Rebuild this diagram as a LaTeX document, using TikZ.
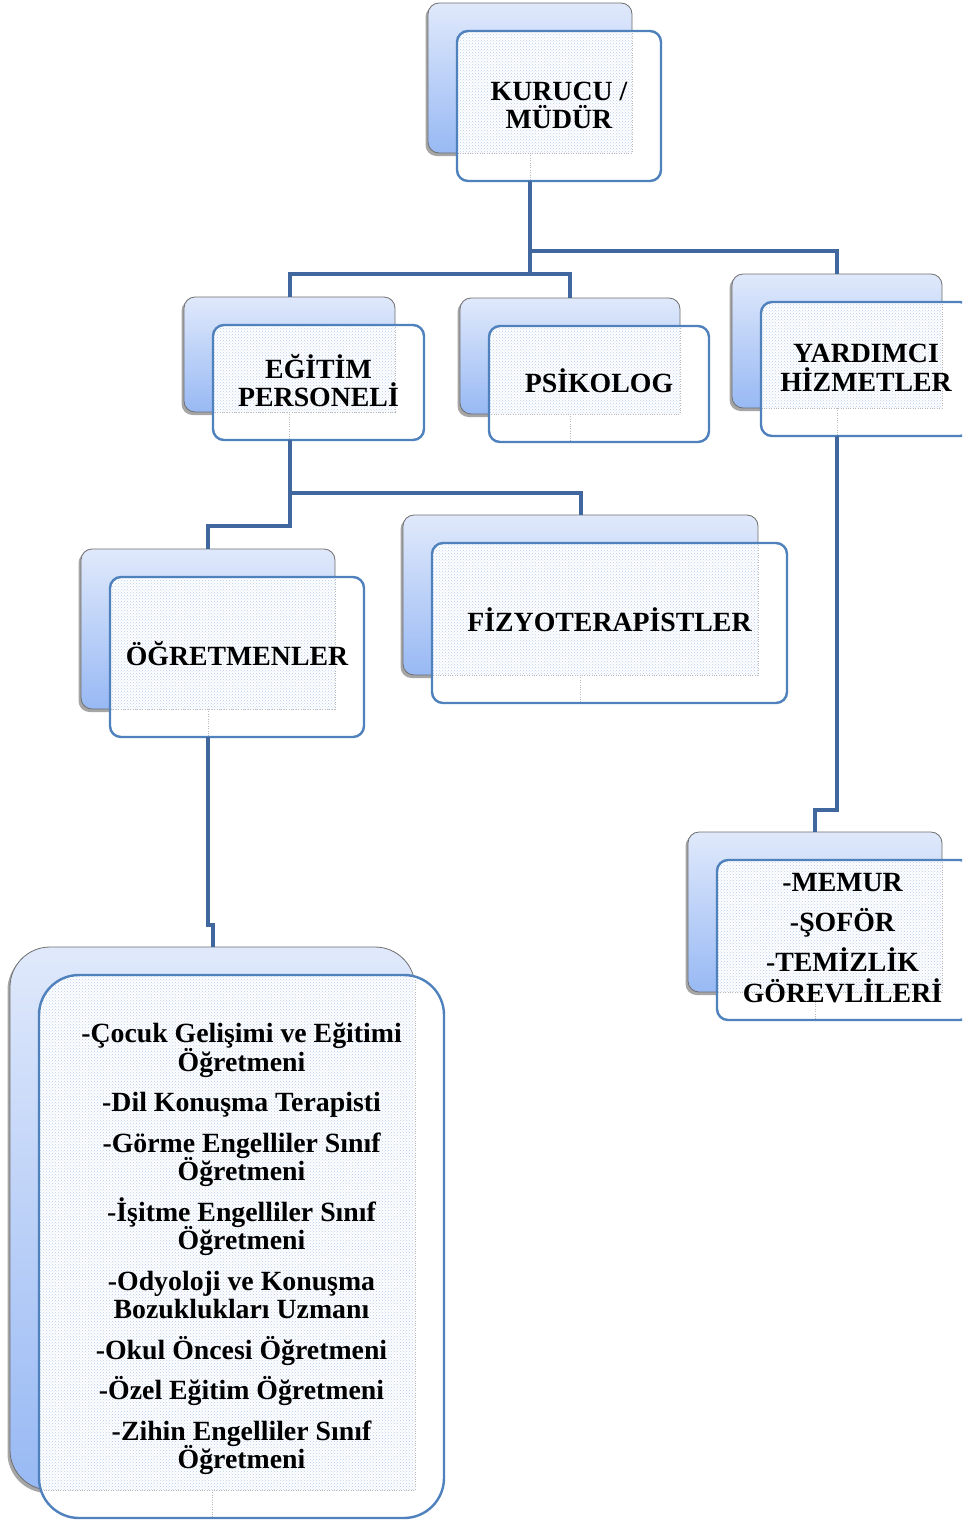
\documentclass[tikz,border=0pt]{standalone}
\usepackage{fontspec}
\setmainfont{Liberation Serif}
\usetikzlibrary{shadows,patterns}
\definecolor{conncol}{RGB}{65,104,158}
\definecolor{frontcol}{RGB}{79,129,189}
\definecolor{backtop}{RGB}{224,233,251}
\definecolor{backbot}{RGB}{152,185,244}
\definecolor{backline}{RGB}{110,110,110}
\definecolor{dotblue}{RGB}{185,205,238}
\newcommand\tightlines{\lineskiplimit=-100pt\relax\lineskip=0pt\relax}
\tikzset{
  backbox/.style={draw=backline, line width=0.8pt, top color=backtop, bottom color=backbot,
    drop shadow={shadow xshift=-2.5pt, shadow yshift=-3pt, opacity=.35, fill=black}},
  frontbox/.style={fill=white, inner sep=0pt, outer sep=0pt, anchor=north west},
  frontline/.style={draw=frontcol, line width=2.4pt},
  dotline/.style={draw=gray!55, line width=.6pt, dash pattern=on .8pt off 1.6pt},
  conn/.style={draw=conncol, line width=4pt, line join=miter},
  boxtext/.style={font=\bfseries\fontsize{27.8}{28.5}\selectfont\tightlines, align=center, text=black, inner sep=0pt}
}
% #1 name, #2 x, #3 y, #4 w, #5 h, #6 radius, #7 text, #8 text shift
\newcommand\orgbox[8]{%
  \draw[backbox, rounded corners=#6] (#2,#3) rectangle ++(#4,#5);
  \node[frontbox, rounded corners=#6, minimum width=#4pt, minimum height=#5pt] (#1) at (#2+29,#3+28) {};
  \begin{scope}
    \clip[rounded corners=#6] (#2+29,#3+28) rectangle ++(#4,#5);
    \fill[pattern=crosshatch dots, pattern color=dotblue] (#2+29,#3+28) rectangle (#2+#4,#3+#5);
    \draw[dotline] (#2+#4,#3+28) -- (#2+#4,#3+#5) -- (#2+29,#3+#5);
    \draw[dotline] (#2+#4/2,#3+#5) -- (#2+#4/2,#3+28+#5);
  \end{scope}
  \draw[frontline, rounded corners=#6] (#1.north west) rectangle (#1.south east);
  \coordinate (#1-in) at (#2+#4/2,#3);
  \coordinate (#1-out) at (#2+#4/2,#3+28+#5);
  \node[boxtext] (#1-t) at ([#8]#1.center) {#7};
}
\begin{document}
\begin{tikzpicture}[x=1pt,y=-1pt]
\clip (0,0) rectangle (962,1521);
\fill[white] (0,0) rectangle (962,1521);

\orgbox{kur}{428}{3}{204}{150}{11}{KURUCU /\\MÜDÜR}{yshift=0.5pt}
\orgbox{egit}{184}{297}{211}{115}{11}{EĞİTİM\\PERSONELİ}{yshift=2pt}
\orgbox{psik}{460}{298}{220}{116}{11}{PSİKOLOG}{yshift=3pt}
\orgbox{yard}{732}{274}{210}{134}{11}{YARDIMCI\\HİZMETLER}{yshift=1pt}
\orgbox{ogr}{81}{549}{254}{160}{11}{ÖĞRETMENLER}{yshift=3pt}
\orgbox{fizyo}{403}{515}{355}{160}{11}{FİZYOTERAPİSTLER}{yshift=3pt}
\orgbox{memur}{688}{832}{254}{160}{11}{-MEMUR\\[11.5pt]-ŞOFÖR\\[11.5pt]-TEMİZLİK\\[2.5pt]GÖREVLİLERİ}{xshift=-1.5pt,yshift=2pt}
\orgbox{alt}{10}{947}{405}{543}{40}{-Çocuk Gelişimi ve Eğitimi\\Öğretmeni\\[12pt]-Dil Konuşma  Terapisti\\[12pt]-Görme Engelliler Sınıf\\Öğretmeni\\[12pt]-İşitme Engelliler Sınıf\\Öğretmeni\\[12pt]-Odyoloji ve Konuşma\\Bozuklukları Uzmanı\\[12pt]-Okul Öncesi Öğretmeni\\[12pt]-Özel Eğitim Öğretmeni\\[12pt]-Zihin Engelliler Sınıf\\Öğretmeni}{yshift=-2.5pt}

% connectors
\coordinate (j1) at (kur-out |- 0,274);
\coordinate (j2) at (kur-out |- 0,251);
\draw[conn] (kur-out) -- (j1);
\draw[conn] (egit-in) |- (psik-in |- j1) -- (psik-in);
\draw[conn] (j2) -| (yard-in);
\coordinate (j3) at (egit-out |- 0,493);
\coordinate (j4) at (egit-out |- 0,526);
\draw[conn] (egit-out) -- (j4) -| (ogr-in);
\draw[conn] (j3) -| (fizyo-in);
\coordinate (j5) at (ogr-out |- 0,925);
\draw[conn] (ogr-out) -- (j5) -| (alt-in);
\coordinate (j6) at (yard-out |- 0,810);
\draw[conn] (yard-out) -- (j6) -| (memur-in);
\end{tikzpicture}
\end{document}
